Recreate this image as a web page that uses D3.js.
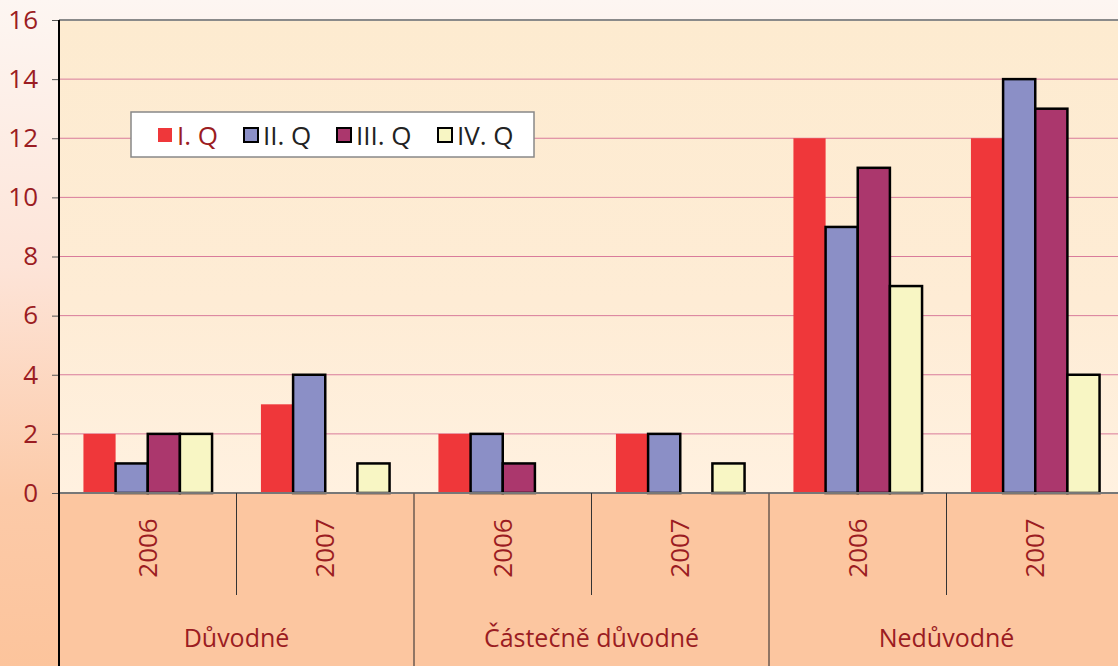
<!DOCTYPE html>
<html>
<head>
<meta charset="utf-8">
<title>Stížnosti</title>
<script src="https://cdn.jsdelivr.net/npm/d3@7"></script>
<style>
  body { margin: 0; overflow: hidden; }
  text { font-family: "Open Sans", "Noto Sans", sans-serif; }
</style>
</head>
<body>
<svg width="1118" height="666"></svg>
<script>
// data
var categories = ["Důvodné", "Částečně důvodné", "Nedůvodné"];
var years = ["2006", "2007"];
var series = ["I. Q", "II. Q", "III. Q", "IV. Q"];
var colors = ["#ef373a", "#8b8fc6", "#ab376d", "#f8f6c4"];
// values per category/year, order I..IV Q
var duvodne = [[2, 1, 2, 2], [3, 4, 0, 1]];
var castecne = [[2, 2, 1, 0], [2, 2, 0, 1]];
var neduvodne = [[12, 9, 11, 7], [12, 14, 13, 4]];
var yTicks = [0, 2, 4, 6, 8, 10, 12, 14, 16];

var groups = [];
[duvodne, castecne, neduvodne].forEach(function (vals, ci) {
  years.forEach(function (yr, yi) {
    groups.push({ key: ci + "-" + yr, cat: categories[ci], year: yr, values: vals[yi] });
  });
});

var svg = d3.select("svg");
var W = 1118, H = 666;
var m = { left: 59, top: 20, bottom: 493, right: 1124 };

var defs = svg.append("defs");
var bg = defs.append("linearGradient").attr("id", "bg").attr("x1", 0).attr("y1", 0).attr("x2", 0).attr("y2", 1);
bg.append("stop").attr("offset", "0%").attr("stop-color", "#fdf6f2");
bg.append("stop").attr("offset", "40%").attr("stop-color", "#fde4d8");
bg.append("stop").attr("offset", "75%").attr("stop-color", "#fccaa8");
bg.append("stop").attr("offset", "100%").attr("stop-color", "#fcc49c");
var pg = defs.append("linearGradient").attr("id", "pg").attr("x1", 0).attr("y1", 0).attr("x2", 0).attr("y2", 1);
pg.append("stop").attr("offset", "0%").attr("stop-color", "#fdebd0");
pg.append("stop").attr("offset", "60%").attr("stop-color", "#feecd5");
pg.append("stop").attr("offset", "100%").attr("stop-color", "#fff1e0");

svg.append("rect").attr("width", W).attr("height", H).attr("fill", "url(#bg)");
// plot area
svg.append("rect").attr("x", m.left).attr("y", m.top).attr("width", m.right - m.left).attr("height", m.bottom - m.top)
  .attr("fill", "url(#pg)");
// category band below axis
svg.append("rect").attr("x", m.left).attr("y", m.bottom).attr("width", m.right - m.left).attr("height", H - m.bottom)
  .attr("fill", "#fcc6a0");

var y = d3.scaleLinear().domain([0, 16]).range([m.bottom, m.top]);
var x0 = d3.scaleBand().domain(groups.map(function (d) { return d.key; })).range([m.left, m.right]).padding(0);
var x1 = d3.scaleBand().domain(d3.range(series.length)).range([0, x0.bandwidth()]).paddingInner(0).paddingOuter(0.76);

// grid lines
svg.append("g").selectAll("line").data(yTicks.filter(function (t) { return t > 0 && t < 16; }))
  .enter().append("line")
  .attr("x1", m.left).attr("x2", m.right)
  .attr("y1", function (d) { return y(d); }).attr("y2", function (d) { return y(d); })
  .attr("stroke", "#d97b9b").attr("stroke-width", 1);
// top border
svg.append("line").attr("x1", m.left).attr("x2", m.right).attr("y1", m.top).attr("y2", m.top)
  .attr("stroke", "#8a8a8a").attr("stroke-width", 2);

// y axis
var yAxis = svg.append("g").attr("transform", "translate(" + m.left + ",0)")
  .call(d3.axisLeft(y).tickValues(yTicks).tickSize(7).tickPadding(14));
yAxis.select(".domain").remove();
yAxis.selectAll(".tick line").attr("stroke", "#555");
yAxis.selectAll(".tick text").attr("fill", "#9b1c22").style("font-size", "26px")
  .style("font-family", "'Open Sans', sans-serif");

// bars
var g = svg.append("g").selectAll("g").data(groups).enter().append("g")
  .attr("transform", function (d) { return "translate(" + x0(d.key) + ",0)"; });
g.selectAll("rect").data(function (d) { return d.values.map(function (v, i) { return { v: v, i: i }; }); })
  .enter().filter(function (d) { return d.v > 0; }).append("rect")
  .attr("x", function (d) { return x1(d.i); })
  .attr("width", x1.bandwidth())
  .attr("y", function (d) { return y(d.v); })
  .attr("height", function (d) { return y(0) - y(d.v); })
  .attr("fill", function (d) { return colors[d.i]; })
  .attr("stroke", function (d) { return d.i === 0 ? "none" : "#000"; })
  .attr("stroke-width", 2.5);

// x axis line
svg.append("line").attr("x1", m.left).attr("x2", m.right).attr("y1", m.bottom).attr("y2", m.bottom)
  .attr("stroke", "#777").attr("stroke-width", 2);
// left axis
svg.append("line").attr("x1", m.left).attr("x2", m.left).attr("y1", m.top).attr("y2", H)
  .attr("stroke", "#000").attr("stroke-width", 2);

// year dividers and labels
groups.forEach(function (d, i) {
  var gx = x0(d.key);
  if (i > 0) {
    var full = i % 2 === 0;
    svg.append("line").attr("x1", gx).attr("x2", gx).attr("y1", m.bottom).attr("y2", full ? H : 595)
      .attr("stroke", full ? "#6d5a50" : "#333").attr("stroke-width", full ? 1.5 : 1);
  }
  svg.append("text")
    .attr("transform", "translate(" + (gx + x0.bandwidth() / 2 + 9) + ",548) rotate(-90)")
    .attr("text-anchor", "middle")
    .attr("fill", "#9b1c22").style("font-size", "26px")
    .text(d.year);
});

// category labels
categories.forEach(function (c, ci) {
  var cx = x0(groups[ci * 2].key) + x0.bandwidth();
  svg.append("text").attr("x", cx).attr("y", 647).attr("text-anchor", "middle")
    .attr("fill", "#9b1c22").style("font-size", "25px").text(c);
});

// legend
var lg = svg.append("g").attr("transform", "translate(131,112)");
lg.append("rect").attr("width", 403).attr("height", 45).attr("fill", "#fff")
  .attr("stroke", "#888").attr("stroke-width", 1.5);
var legX = [27, 113, 206, 307];
series.forEach(function (s, i) {
  var it = lg.append("g").attr("transform", "translate(" + legX[i] + ",0)");
  it.append("rect").attr("x", 0).attr("y", 16).attr("width", 14).attr("height", 14)
    .attr("fill", colors[i]).attr("stroke", i === 0 ? "none" : "#000").attr("stroke-width", 2);
  it.append("text").attr("x", 19).attr("y", 33).attr("fill", i === 0 ? "#9b1c22" : "#222")
    .style("font-size", "26px").text(s);
});
</script>
</body>
</html>
